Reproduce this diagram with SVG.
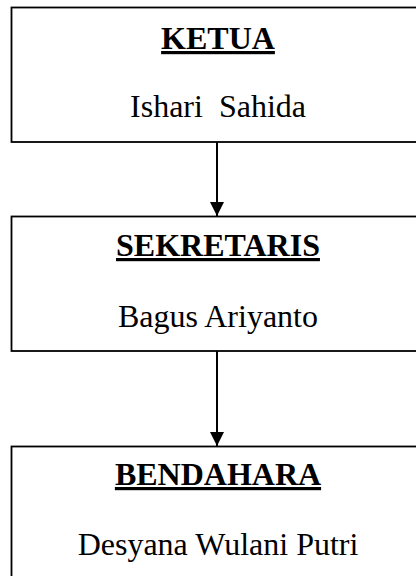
<svg xmlns="http://www.w3.org/2000/svg" width="416" height="576" viewBox="0 0 416 576">
  <style>
    .box { fill: #ffffff; stroke: #000000; stroke-width: 1.8; }
    .title { font-family: "Liberation Serif", "Times New Roman", serif; font-size: 32px; font-weight: bold; text-anchor: middle; text-decoration: underline; fill: #000; }
    .name { font-family: "Liberation Serif", "Times New Roman", serif; font-size: 32px; text-anchor: middle; fill: #000; white-space: pre; }
    .conn { stroke: #000000; stroke-width: 2; fill: none; }
  </style>
  <defs>
    <marker id="arrow" viewBox="0 0 14 14" refX="14" refY="7" markerWidth="14" markerHeight="14" markerUnits="userSpaceOnUse" orient="auto">
      <path d="M0,0 L14,7 L0,14 Z" fill="#000000"/>
    </marker>
  </defs>
  <rect width="416" height="576" fill="#ffffff"/>
  <g id="connectors">
    <line class="conn" x1="217" y1="142" x2="217" y2="216" marker-end="url(#arrow)"/>
    <line class="conn" x1="217" y1="351" x2="217" y2="446" marker-end="url(#arrow)"/>
  </g>
  <g id="ketua">
    <rect class="box" x="11.5" y="7.5" width="420" height="134.5"/>
    <text class="title" x="218" y="49">KETUA</text>
    <text class="name" x="218" y="117" xml:space="preserve">Ishari  Sahida</text>
  </g>
  <g id="sekretaris">
    <rect class="box" x="11.5" y="216.5" width="420" height="134.5"/>
    <text class="title" x="218" y="256">SEKRETARIS</text>
    <text class="name" x="218" y="327">Bagus Ariyanto</text>
  </g>
  <g id="bendahara">
    <rect class="box" x="11.5" y="446.5" width="420" height="140"/>
    <text class="title" x="218" y="485">BENDAHARA</text>
    <text class="name" x="218" y="555">Desyana Wulani Putri</text>
  </g>
</svg>
